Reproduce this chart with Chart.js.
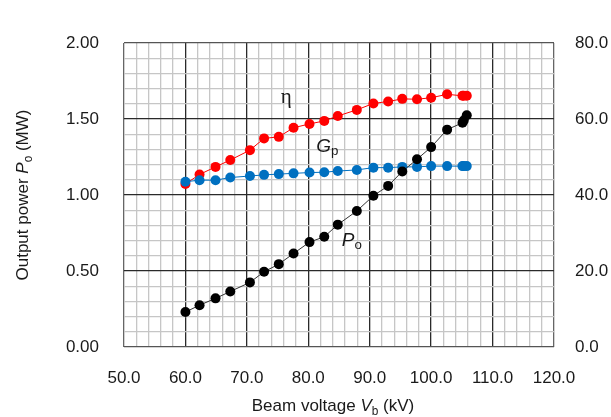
<!DOCTYPE html>
<html>
<head>
<meta charset="utf-8">
<script src="https://cdn.jsdelivr.net/npm/chart.js@4.4.1/dist/chart.umd.min.js"></script>
<style>
  html, body { margin: 0; padding: 0; background: #fff; }
  #wrap { width: 611px; height: 417px; }
</style>
</head>
<body>
<div id="wrap"><canvas id="myChart" width="611" height="417"></canvas></div>
<script>
// beam voltage (kV) for every measured point
const voltage = [60.0, 62.3, 64.9, 67.3, 70.5, 72.8, 75.2, 77.6, 80.2, 82.6, 84.8,
                 87.9, 90.6, 93.0, 95.3, 97.7, 100.0, 102.6, 105.1, 105.3, 105.8];
// output power Po (MW), left axis
const outputPower = [0.23, 0.275, 0.32, 0.365, 0.425, 0.495, 0.545, 0.615, 0.69, 0.725, 0.805,
                     0.895, 0.995, 1.06, 1.155, 1.235, 1.315, 1.43, 1.475, 1.49, 1.525];
// efficiency eta (%), right axis
const efficiency = [42.9, 45.4, 47.4, 49.2, 51.8, 54.9, 55.3, 57.7, 58.7, 59.5, 60.8,
                    62.4, 64.1, 64.6, 65.3, 65.2, 65.6, 66.5, 66.1, 66.1, 66.1];
// gain Gp (dB), right axis
const gain = [43.5, 43.9, 43.9, 44.6, 45.0, 45.3, 45.5, 45.7, 45.9, 46.0, 46.3,
              46.6, 47.2, 47.2, 47.4, 47.4, 47.6, 47.6, 47.6, 47.6, 47.6];

// curve labels, placed in data units (x kV, y left axis MW)
const curveLabels = [
  { main: 'η', sub: '', x: 76.4, y: 1.64 },
  { main: 'G', sub: 'p', x: 83.1, y: 1.32 },
  { main: 'P', sub: 'o', x: 87.1, y: 0.70 }
];

function pts(ys) {
  let out = [];
  for (let i = 0; i < voltage.length; i++) {
    out.push({ x: voltage[i], y: ys[i] });
  }
  return out;
}

const FONT = "'Liberation Sans', Arial, sans-serif";
const TXT = '#1a1a1a';

// draw "normal Italic sub rest" as one run, centred on (0,0) of current transform
function drawRun(ctx, size, parts) {
  let w = 0;
  parts.forEach(p => {
    ctx.font = (p.italic ? 'italic ' : '') + (p.sub ? size * 0.7 : size) + 'px ' + FONT;
    p.w = ctx.measureText(p.t).width;
    w += p.w;
  });
  let x = -w / 2;
  parts.forEach(p => {
    ctx.font = (p.italic ? 'italic ' : '') + (p.sub ? size * 0.7 : size) + 'px ' + FONT;
    ctx.fillText(p.t, x, p.sub ? size * 0.25 : 0);
    x += p.w;
  });
}

const textPlugin = {
  id: 'textPlugin',
  afterDraw(chart) {
    const ctx = chart.ctx;
    const a = chart.chartArea;
    const sx = chart.scales.x, sy = chart.scales.y;
    ctx.save();
    ctx.fillStyle = TXT;
    ctx.textAlign = 'left';
    ctx.textBaseline = 'alphabetic';

    // x axis title
    ctx.save();
    ctx.translate((a.left + a.right) / 2 - 6, 411);
    drawRun(ctx, 17, [{ t: 'Beam voltage ' }, { t: 'V', italic: true }, { t: 'b', sub: true }, { t: ' (kV)' }]);
    ctx.restore();

    // y axis title
    ctx.save();
    ctx.translate(28, (a.top + a.bottom) / 2);
    ctx.rotate(-Math.PI / 2);
    drawRun(ctx, 17, [{ t: 'Output power ' }, { t: 'P', italic: true }, { t: 'o', sub: true }, { t: ' (MW)' }]);
    ctx.restore();

    // curve labels
    curveLabels.forEach(l => {
      const px = sx.getPixelForValue(l.x);
      const py = sy.getPixelForValue(l.y);
      ctx.save();
      ctx.translate(px, py);
      ctx.textBaseline = 'middle';
      if (l.sub === '') {
        ctx.font = "21px 'Liberation Serif', 'DejaVu Serif', serif";
        ctx.textAlign = 'center';
        ctx.fillText(l.main, 0, 0);
      } else {
        drawRun(ctx, 19, [{ t: l.main, italic: true }, { t: l.sub, sub: true }]);
      }
      ctx.restore();
    });
    ctx.restore();
  }
};

function series(label, ys, color, lineColor, axis) {
  return {
    label: label,
    data: pts(ys),
    yAxisID: axis,
    showLine: true,
    borderColor: lineColor,
    borderWidth: 1,
    backgroundColor: color,
    pointBackgroundColor: color,
    pointBorderColor: color,
    pointBorderWidth: 0,
    pointRadius: 5,
    tension: 0
  };
}

function xGrid(c) {
  const v = c.tick.value;
  if (v === 50 || v === 120) return '#666';
  return v % 10 === 0 ? '#2a2a2a' : '#c6c6c6';
}
function yGrid(c) {
  const v = Math.round(c.tick.value * 10);
  if (v === 0 || v === 20) return '#555';
  return v % 5 === 0 ? '#2a2a2a' : '#c6c6c6';
}

Chart.defaults.font.family = FONT;
Chart.defaults.color = TXT;

const ctx = document.getElementById('myChart').getContext('2d');
new Chart(ctx, {
  type: 'scatter',
  data: {
    datasets: [
      series('Po', outputPower, '#000000', '#333333', 'y'),
      series('Gp', gain, '#0070c0', '#0070c0', 'y2'),
      series('eta', efficiency, '#ff0000', '#ff0000', 'y2')
    ]
  },
  options: {
    responsive: false,
    animation: false,
    layout: { padding: { top: 43, left: 0, right: 0, bottom: 0 } },
    plugins: { legend: { display: false }, tooltip: { enabled: false } },
    scales: {
      x: {
        type: 'linear', min: 50, max: 120,
        grid: { color: xGrid, lineWidth: 1.3, drawTicks: false },
        border: { display: false },
        ticks: {
          stepSize: 2, autoSkip: false, maxRotation: 0, padding: 21,
          font: { size: 17 },
          callback: v => (Math.round(v) % 10 === 0 ? v.toFixed(1) : '')
        },
        afterFit: s => { s.height = 70; }
      },
      y: {
        position: 'left', min: 0, max: 2,
        grid: { color: yGrid, lineWidth: 1.3, drawTicks: false },
        border: { display: false },
        ticks: {
          stepSize: 0.1, autoSkip: false, padding: 25,
          font: { size: 17 },
          callback: v => (Math.round(v * 10) % 5 === 0 ? v.toFixed(2) : '')
        },
        afterFit: s => { s.width = 124; }
      },
      y2: {
        position: 'right', min: 0, max: 80,
        grid: { display: false, drawTicks: false },
        border: { display: false },
        ticks: {
          stepSize: 20, padding: 21,
          font: { size: 17 },
          callback: v => v.toFixed(1)
        },
        afterFit: s => { s.width = 57; }
      }
    }
  },
  plugins: [textPlugin]
});
</script>
</body>
</html>
